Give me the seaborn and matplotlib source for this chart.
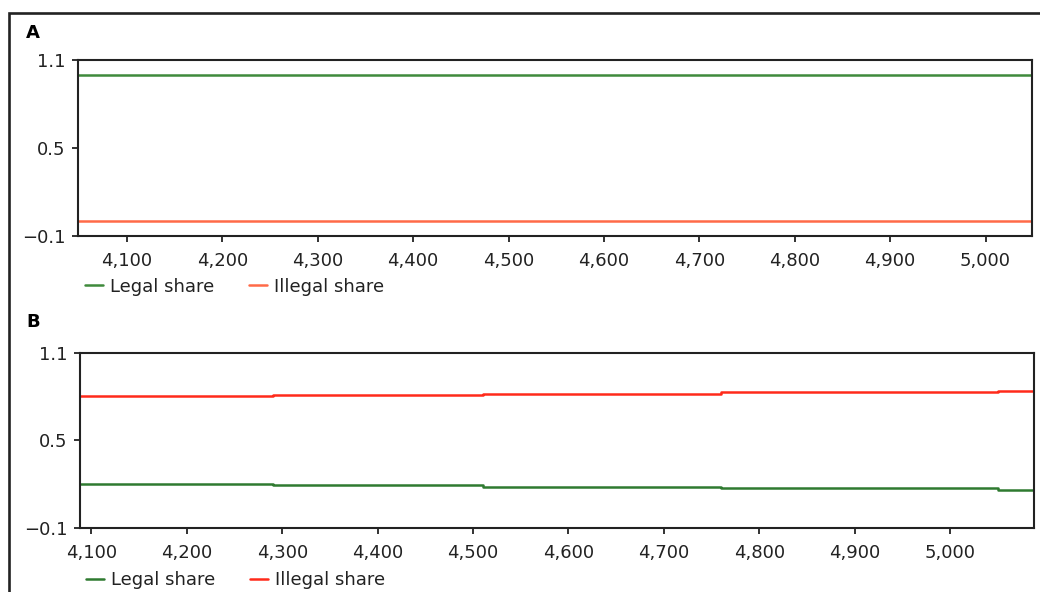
import numpy as np
import pandas as pd
import matplotlib
matplotlib.use("Agg")
import matplotlib.pyplot as plt
import matplotlib.ticker as mticker
from matplotlib.patches import Rectangle
import seaborn as sns

# panel A: ticks and shares
a_ticks = [4049, 5049]
a_legal = [1.0, 1.0]
a_illegal = [0.0, 0.0]

# panel B: ticks and shares (step changes)
b_ticks = [4088, 4290, 4510, 4760, 5050, 5088]
b_legal = [0.20, 0.19, 0.18, 0.17, 0.16, 0.16]
b_illegal = [0.80, 0.81, 0.82, 0.83, 0.84, 0.84]

x_tick_vals = [4100, 4200, 4300, 4400, 4500, 4600, 4700, 4800, 4900, 5000]
y_tick_vals = [-0.1, 0.5, 1.1]
series_names = ["Legal share", "Illegal share"]

sns.set_style("white")
plt.rcParams["font.family"] = ["DejaVu Sans"]
plt.rcParams["font.size"] = 13
text_col = "#222222"

fig = plt.figure(figsize=(10.4, 5.92), dpi=100)

#outer frame (clipped at right and bottom like the original)
fig.patches.append(Rectangle((9 / 1040, -0.2), 1.2, (592 - 13) / 592 + 0.2,
                             transform=fig.transFigure, fill=False,
                             edgecolor=text_col, lw=1.9, clip_on=False))


def make_panel(rect, ticks, legal, illegal, xlim, colors, leg_xy, label, label_xy):
    ax = fig.add_axes(rect)
    df = pd.DataFrame({
        "tick": list(ticks) * 2,
        "share": list(legal) + list(illegal),
        "series": [series_names[0]] * len(ticks) + [series_names[1]] * len(ticks),
    })
    sns.lineplot(data=df, x="tick", y="share", hue="series", palette=colors,
                 estimator=None, drawstyle="steps-post", lw=1.8, ax=ax, legend=False)
    ax.set_xlim(*xlim)
    ax.set_ylim(-0.1, 1.1)
    ax.set_xticks(x_tick_vals)
    ax.set_yticks(y_tick_vals)
    ax.xaxis.set_major_formatter(mticker.FuncFormatter(lambda v, p: f"{int(v):,}"))
    ax.yaxis.set_major_formatter(mticker.FuncFormatter(lambda v, p: f"{v:.1f}".replace("-", "\u2212")))
    ax.set_xlabel("")
    ax.set_ylabel("")
    for s in ax.spines.values():
        s.set_color(text_col)
        s.set_linewidth(1.5)
    ax.tick_params(axis="both", direction="out", length=4, width=1.3, color=text_col,
                   labelcolor=text_col, labelsize=13, bottom=True, left=True)
    ax.tick_params(axis="x", pad=8)
    ax.tick_params(axis="y", pad=5)
    handles = ax.get_lines()[:2]
    ax.legend(handles, series_names, loc="center left", bbox_to_anchor=leg_xy,
              bbox_transform=fig.transFigure, frameon=False, ncol=2,
              handlelength=1.0, handletextpad=0.4, columnspacing=1.9,
              borderaxespad=0, borderpad=0, fontsize=13, labelcolor=text_col)
    fig.text(label_xy[0], label_xy[1], label, fontsize=13, fontweight="bold",
             color="black", ha="left", va="center")
    return ax


make_panel([78.3 / 1040, 1 - 235.7 / 592, (1032.3 - 78.3) / 1040, 175.7 / 592],
           a_ticks, a_legal, a_illegal, (4049, 5049),
           ["#3f8a3c", "#ff6a48"], (85 / 1040, 1 - 286.7 / 592), "A", (26 / 1040, 1 - 33 / 592))

make_panel([80 / 1040, 1 - 527.7 / 592, (1034 - 80) / 1040, 175 / 592],
           b_ticks, b_legal, b_illegal, (4088, 5088),
           ["#2f7a30", "#ff2a1a"], (86 / 1040, 1 - 580 / 592), "B", (26 / 1040, 1 - 322 / 592))

fig.savefig("out.png", dpi=100)
